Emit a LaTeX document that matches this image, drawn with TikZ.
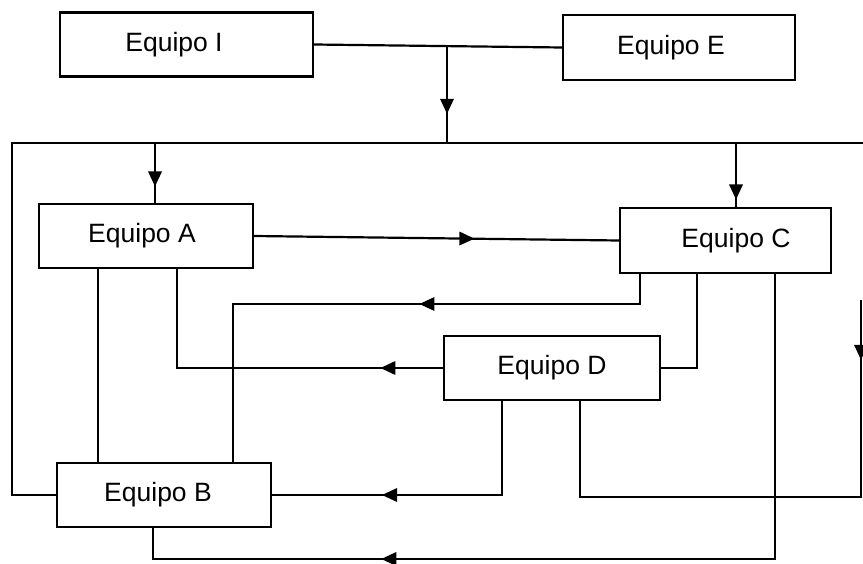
\documentclass[tikz,border=0pt]{standalone}
\usepackage{fontspec}
\setmainfont{Liberation Sans}
\usetikzlibrary{shapes.geometric}
\begin{document}
\begin{tikzpicture}[x=1pt,y=-1pt,
  box/.style={draw, line width=2.4pt, fill=white, inner sep=0pt, font=\fontsize{26.5}{30}\selectfont},
  wire/.style={line width=2.2pt},
  tri/.style={isosceles triangle, isosceles triangle stretches, minimum width=14pt, minimum height=15pt, inner sep=0pt, outer sep=0pt, fill=black, sloped, allow upside down},
  shiftx/.style={execute at begin node={\hspace*{#1}}}
]
\useasboundingbox (0,0) rectangle (863,564);

\node[box, minimum width=253pt, minimum height=64pt, shiftx=-25pt] (I) at (186.5,44.5) {Equipo I};
\node[box, minimum width=232pt, minimum height=65pt, shiftx=-16pt] (E) at (679,47.5) {Equipo E};
\node[box, minimum width=214pt, minimum height=64pt, shiftx=-8pt] (A) at (146,236) {Equipo A};
\node[box, minimum width=211pt, minimum height=65pt, shiftx=21pt] (C) at (725.5,240.5) {Equipo C};
\node[box, minimum width=216pt, minimum height=64pt] (D) at (552,368) {Equipo D};
\node[box, minimum width=214pt, minimum height=64pt, shiftx=-12pt] (B) at (164,495) {Equipo B};

\coordinate (j) at (447,46);
\coordinate (bus) at (447,143);
\coordinate (TL) at (12,143);
\coordinate (TR) at (863,143);
\coordinate (bA) at (155,143);
\coordinate (bC) at (736,143);

\draw[wire] (I.east) -- (E.west);
\draw[wire] (j) -- node[tri,pos=0.59]{} (bus);
\draw[wire] (B.west) -| (TL) -- (TR);
\draw[wire] (bA) -- node[tri,pos=0.55]{} (bA |- A.north);
\draw[wire] (bC) -- node[tri,pos=0.72]{} (bC |- C.north);
\draw[wire] (A.east) -- node[tri,pos=0.575]{} (C.west);

\coordinate (c1) at (640,304);
\coordinate (c2) at (233,304);
\draw[wire] (c1 |- C.south) -- (c1) -- node[tri,pos=0.516]{} (c2) -- (c2 |- B.north);

\coordinate (d1) at (177,368);
\draw[wire] (D.west) -- node[tri,pos=0.195]{} (d1) -- (d1 |- A.south);

\coordinate (c3) at (697,368);
\draw[wire] (c3 |- C.south) -- (c3) -- (D.east);

\coordinate (d2) at (502,495);
\draw[wire] (d2 |- D.south) -- (d2) -- node[tri,pos=0.476]{} (B.east);

\coordinate (a1) at (98,300);
\draw[wire] (a1 |- A.south) -- (a1 |- B.north);

\coordinate (c4) at (775,559);
\coordinate (b1) at (153,559);
\draw[wire] (c4 |- C.south) -- (c4) -- node[tri,pos=0.616]{} (b1) -- (b1 |- B.south);

\coordinate (r1) at (861,300);
\coordinate (r2) at (861,497);
\coordinate (d3) at (580,497);
\draw[wire] (r1) -- node[tri,pos=0.25]{} (r2) -- (d3) -- (d3 |- D.south);
\end{tikzpicture}
\end{document}
